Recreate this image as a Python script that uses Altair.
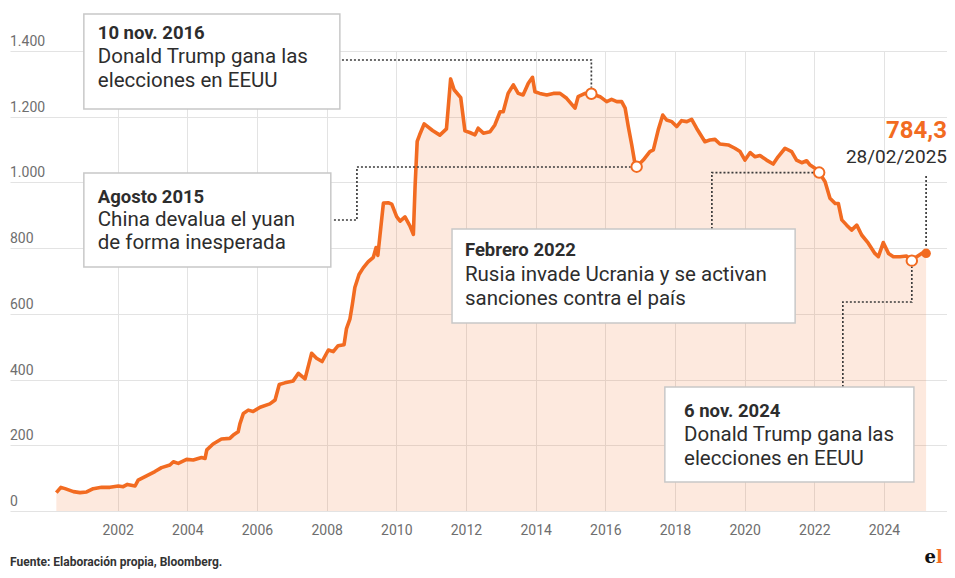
import altair as alt
import pandas as pd

# ---- data (decimal year, value) ----
years = [
    2000.24, 2000.37, 2000.49, 2000.73, 2000.92, 2001.11, 2001.30, 2001.54, 2001.78,
    2002.02, 2002.16, 2002.28, 2002.50, 2002.59, 2002.83, 2003.07, 2003.26, 2003.50,
    2003.60, 2003.74, 2003.98, 2004.17, 2004.41, 2004.51, 2004.56, 2004.74, 2004.98,
    2005.22, 2005.32, 2005.46, 2005.51, 2005.61, 2005.75, 2005.89, 2006.09, 2006.37,
    2006.52, 2006.64, 2006.80, 2007.04, 2007.19, 2007.38, 2007.57, 2007.71, 2007.87,
    2008.05, 2008.19, 2008.33, 2008.50, 2008.57, 2008.67, 2008.74, 2008.81, 2008.93,
    2009.05, 2009.19, 2009.34, 2009.42, 2009.47, 2009.63, 2009.77, 2009.87, 2010.01,
    2010.11, 2010.25, 2010.39, 2010.49, 2010.54, 2010.60, 2010.67, 2010.80, 2011.04,
    2011.25, 2011.44, 2011.56, 2011.66, 2011.85, 2011.97, 2012.11, 2012.26, 2012.35,
    2012.50, 2012.69, 2012.83, 2012.98, 2013.07, 2013.21, 2013.36, 2013.50, 2013.64,
    2013.79, 2013.91, 2013.98, 2014.12, 2014.32, 2014.51, 2014.70, 2014.89, 2015.13,
    2015.22, 2015.42, 2015.60, 2015.85, 2016.04, 2016.18, 2016.33, 2016.47, 2016.57,
    2016.66, 2016.76, 2016.85, 2016.90, 2017.09, 2017.28, 2017.38, 2017.52, 2017.65,
    2017.76, 2017.91, 2018.05, 2018.19, 2018.34, 2018.48, 2018.62, 2018.86, 2019.00,
    2019.15, 2019.29, 2019.53, 2019.72, 2019.87, 2020.01, 2020.16, 2020.30, 2020.44,
    2020.63, 2020.82, 2020.96, 2021.16, 2021.35, 2021.49, 2021.64, 2021.78, 2021.88,
    2022.02, 2022.14, 2022.31, 2022.45, 2022.60, 2022.69, 2022.79, 2022.93, 2023.07,
    2023.22, 2023.36, 2023.55, 2023.74, 2023.84, 2023.98, 2024.13, 2024.27, 2024.46,
    2024.65, 2024.80, 2024.94, 2025.08, 2025.21,
]
values = [
    56, 72, 68, 59, 56, 58, 68, 72, 72,
    76, 74, 81, 76, 94, 107, 120, 132, 140,
    150, 145, 157, 155, 163, 160, 186, 204, 219,
    221, 231, 241, 265, 297, 307, 303, 316, 326,
    338, 385, 390, 396, 419, 402, 480, 465, 455,
    490, 485, 503, 506, 555, 585, 630, 680, 720,
    740, 758, 772, 802, 778, 937, 938, 934, 896,
    882, 895, 868, 842, 990, 1125, 1145, 1178, 1158,
    1144, 1163, 1315, 1282, 1258, 1157, 1152, 1145, 1165,
    1150, 1154, 1175, 1215, 1215, 1271, 1297, 1271, 1266,
    1302, 1320, 1276, 1271, 1266, 1271, 1271, 1256, 1226,
    1261, 1271, 1270, 1261, 1246, 1253, 1246, 1246, 1226,
    1170, 1114, 1058, 1048, 1068, 1094, 1099, 1160, 1205,
    1190, 1185, 1170, 1188, 1185, 1192, 1165, 1124, 1129,
    1131, 1117, 1114, 1104, 1094, 1068, 1091, 1078, 1082,
    1068, 1056, 1078, 1104, 1094, 1068, 1060, 1066, 1053,
    1043, 1030, 1002, 952, 936, 936, 886, 870, 855,
    870, 840, 815, 784, 774, 817, 784, 774, 774,
    776, 762, 774, 784, 784.3,
]

# highlighted events (circles)
event_years = [2015.60, 2016.90, 2022.14, 2024.80]
event_values = [1270, 1048, 1030, 762]

last_year = [2025.21]
last_value = [784.3]
last_label = ["784,3"]
last_date = ["28/02/2025"]

x_ticks = list(range(2002, 2025, 2))
y_ticks = [0, 200, 400, 600, 800, 1000, 1200, 1400]
y_labels = ["0", "200", "400", "600", "800", "1.000", "1.200", "1.400"]

X_MIN, X_MAX = 1998.91, 2025.81

# annotation boxes (in data units: year / value)
box_x = [2001.03, 2001.03, 2011.60, 2017.71]
box_x2 = [2008.38, 2008.12, 2021.45, 2024.86]
box_y = [1512.6, 1028.7, 858.3, 377.4]
box_y2 = [1223.5, 742.6, 572.2, 88.3]

ann_head_x = [2001.43, 2001.43, 2011.97, 2018.26]
ann_head_y = [1454.8, 955.7, 794.4, 304.3]
ann_head = ["10 nov. 2016", "Agosto 2015", "Febrero 2022", "6 nov. 2024"]

ann_line1_y = [1381.7, 885.7, 718.3, 231.3]
ann_line2_y = [1308.7, 815.7, 645.2, 158.3]
ann_line1 = ["Donald Trump gana las", "China devalua el yuan",
             "Rusia invade Ucrania y se activan", "Donald Trump gana las"]
ann_line2 = ["elecciones en EEUU", "de forma inesperada",
             "sanciones contra el país", "elecciones en EEUU"]

# dotted connectors: id, x, y
conn_id = [1, 1, 1, 2, 2, 2, 2, 3, 3, 3, 4, 4, 4, 4, 5, 5]
conn_x = [2008.44, 2015.60, 2015.60,
          2008.21, 2008.87, 2008.87, 2016.73,
          2019.06, 2019.06, 2021.97,
          2022.82, 2022.82, 2024.80, 2024.80,
          2025.21, 2025.21]
conn_y = [1372.6, 1372.6, 1288,
          885.7, 885.7, 1047, 1047,
          858.3, 1030, 1030,
          377.4, 636.1, 636.1, 744,
          1019.6, 803.5]

ORANGE = "#f26b21"
TEXT = "#2d2d2d"
GRID = "#e3e3e3"
LABEL = "#6e6e6e"
FONT = "Roboto"

xs = alt.Scale(domain=[X_MIN, X_MAX], nice=False, zero=False)
ys = alt.Scale(domain=[0, 1400], nice=False, zero=False)

x_axis = alt.Axis(values=x_ticks, format="d", title=None, grid=True, gridColor=GRID,
                  gridWidth=1, domain=False, ticks=False, labelFontSize=14,
                  labelColor=LABEL, labelFont=FONT, labelPadding=12)
y_axis = alt.Axis(values=y_ticks, title=None, grid=True, gridColor=GRID, gridWidth=1,
                  labels=False, ticks=False, domain=False)


def X(field):
    return alt.X(field, type="quantitative", scale=xs, axis=x_axis)


def Y(field):
    return alt.Y(field, type="quantitative", scale=ys, axis=y_axis)


df = pd.DataFrame({"year": years, "value": values})

area = alt.Chart(df).mark_area(color=ORANGE, opacity=0.15).encode(x=X("year"), y=Y("value"))
line = alt.Chart(df).mark_line(color=ORANGE, strokeWidth=3.6, strokeJoin="round").encode(
    x=X("year"), y=Y("value"))

ylab = alt.Chart(pd.DataFrame({"v": y_ticks, "label": y_labels})).mark_text(
    align="left", baseline="alphabetic", dy=-5, fontSize=14, color=LABEL, font=FONT
).encode(x=alt.value(0), y=Y("v"), text="label:N")

conn = alt.Chart(pd.DataFrame({"id": conn_id, "x": conn_x, "y": conn_y,
                               "o": list(range(len(conn_id)))})).mark_line(
    color="#3c3c3c", strokeWidth=1.7, strokeDash=[2, 2]
).encode(x=X("x"), y=Y("y"), detail="id:N", order="o:Q")

events = alt.Chart(pd.DataFrame({"x": event_years, "y": event_values})).mark_point(
    shape="circle", filled=True, fill="white", stroke=ORANGE, strokeWidth=2, size=110, opacity=1
).encode(x=X("x"), y=Y("y"))

last = alt.Chart(pd.DataFrame({"x": last_year, "y": last_value})).mark_circle(
    color=ORANGE, size=90, opacity=1).encode(x=X("x"), y=Y("y"))

boxes = alt.Chart(pd.DataFrame({"x": box_x, "x2": box_x2, "y": box_y, "y2": box_y2})).mark_rect(
    fill="white", stroke="#c8c8c8", strokeWidth=1.5
).encode(x=X("x"), x2="x2", y=Y("y"), y2="y2")

head = alt.Chart(pd.DataFrame({"x": ann_head_x, "y": ann_head_y, "t": ann_head})).mark_text(
    align="left", baseline="middle", fontSize=18.5, fontWeight="bold", color=TEXT, font=FONT
).encode(x=X("x"), y=Y("y"), text="t:N")

body1 = alt.Chart(pd.DataFrame({"x": ann_head_x, "y": ann_line1_y, "t": ann_line1})).mark_text(
    align="left", baseline="middle", fontSize=20.5, color=TEXT, font=FONT
).encode(x=X("x"), y=Y("y"), text="t:N")

body2 = alt.Chart(pd.DataFrame({"x": ann_head_x, "y": ann_line2_y, "t": ann_line2})).mark_text(
    align="left", baseline="middle", fontSize=20.5, color=TEXT, font=FONT
).encode(x=X("x"), y=Y("y"), text="t:N")

val_label = alt.Chart(pd.DataFrame({"x": [X_MAX], "y": [1156.5], "t": last_label})).mark_text(
    align="right", baseline="middle", fontSize=24, fontWeight="bold", color=ORANGE, font=FONT
).encode(x=X("x"), y=Y("y"), text="t:N")

date_label = alt.Chart(pd.DataFrame({"x": [X_MAX], "y": [1077.4], "t": last_date})).mark_text(
    align="right", baseline="middle", fontSize=19, color=TEXT, font=FONT
).encode(x=X("x"), y=Y("y"), text="t:N")

footer = alt.Chart(pd.DataFrame({"t": ["Fuente: Elaboración propia, Bloomberg."]})).mark_text(
    align="left", baseline="middle", fontSize=12, fontWeight="bold", color="#333333", font=FONT
).encode(x=alt.value(0), y=alt.value(511), text="t:N")

logo_e = alt.Chart(pd.DataFrame({"t": ["e"]})).mark_text(
    align="right", baseline="middle", fontSize=18, fontWeight="bold", color="#111111",
    font="DejaVu Serif"
).encode(x=alt.value(926), y=alt.value(507), text="t:N")

logo_l = alt.Chart(pd.DataFrame({"t": ["l"]})).mark_text(
    align="left", baseline="middle", fontSize=18, fontWeight="bold", color=ORANGE,
    font="DejaVu Serif"
).encode(x=alt.value(926), y=alt.value(507), text="t:N")

chart = alt.layer(
    area, line, ylab, conn, events, last, boxes, head, body1, body2,
    val_label, date_label, footer, logo_e, logo_l
).properties(
    width=937, height=460,
    padding={"left": 2, "top": 43, "right": 0, "bottom": 59},
    autosize=alt.AutoSizeParams(type="none"),
    background="white",
).configure_view(stroke=None)

chart.save("out.html", embed_options={"renderer": "svg", "actions": False})
